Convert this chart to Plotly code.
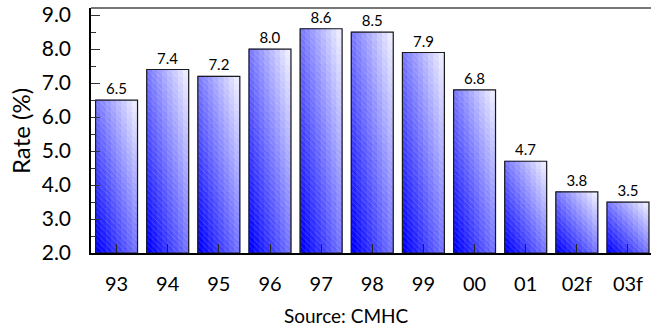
import plotly.graph_objects as go

categories = ["93", "94", "95", "96", "97", "98", "99", "00", "01", "02f", "03f"]
rates = [6.5, 7.4, 7.2, 8.0, 8.6, 8.5, 7.9, 6.8, 4.7, 3.8, 3.5]
value_labels = ["6.5", "7.4", "7.2", "8.0", "8.6", "8.5", "7.9", "6.8", "4.7", "3.8", "3.5"]
y_tick_vals = [2, 3, 4, 5, 6, 7, 8, 9]
y_tick_text = ["2.0", "3.0", "4.0", "5.0", "6.0", "7.0", "8.0", "9.0"]
axis_floor = 2.0

FONT = "Lato, 'Open Sans', sans-serif"
BAR_W = 0.82
ROWS = 26
COLS = 8

fig = go.Figure()

# diagonal blue -> white gradient, built from stacked slices of each bar
heights = [v - axis_floor for v in rates]
for j in range(COLS):
    w = BAR_W / COLS
    off = -BAR_W / 2 + j * w
    for i in range(ROWS):
        t = ((i + 0.5) / ROWS + (j + 0.5) / COLS) / 2
        t = max(0.0, (t - 0.04) / 0.96)
        c = int(round(245 * t))
        col = f"rgb({c},{c},255)"
        fig.add_trace(go.Bar(
            x=categories,
            y=[h / ROWS for h in heights],
            base=[axis_floor + h * i / ROWS for h in heights],
            width=w, offset=off,
            marker=dict(color=col, line=dict(width=1, color=col)),
            hoverinfo="skip", showlegend=False,
        ))

# outline + subtle stripes + value labels
fig.add_trace(go.Bar(
    x=categories,
    y=heights,
    base=[axis_floor] * len(rates),
    width=BAR_W, offset=-BAR_W / 2,
    marker=dict(
        color="rgba(0,0,0,0)",
        line=dict(color="#1a1a1a", width=1.2),
        pattern=dict(shape="\\", fgcolor="white", fgopacity=0.3, size=4,
                     solidity=0.15, fillmode="overlay"),
    ),
    text=value_labels,
    textposition="outside",
    textfont=dict(family=FONT, size=15, color="black"),
    cliponaxis=False,
    showlegend=False,
))

fig.update_layout(
    width=651, height=329,
    margin=dict(l=91, r=0, t=8, b=76),
    paper_bgcolor="white", plot_bgcolor="white",
    barmode="overlay",
    font=dict(family=FONT, color="black"),
    xaxis=dict(
        type="category", range=[-0.5, 10.45],
        showline=True, linecolor="black", linewidth=1.5,
        ticks="inside", ticklen=9, tickcolor="#222", tickwidth=1,
        tickfont=dict(family=FONT, size=20),
        ticklabelstandoff=12,
        showgrid=False, zeroline=False, fixedrange=True,
    ),
    yaxis=dict(
        range=[2.0, 9.21],
        tickvals=y_tick_vals, ticktext=y_tick_text,
        showline=True, linecolor="black", linewidth=1.5,
        ticks="inside", ticklen=9, tickcolor="#333", tickwidth=1,
        minor=dict(dtick=0.5, ticks="inside", ticklen=5, tickcolor="#333", tickwidth=1),
        tickfont=dict(family=FONT, size=21),
        ticklabelstandoff=14,
        showgrid=False, zeroline=False, fixedrange=True,
    ),
    shapes=[dict(type="line", xref="paper", yref="paper", x0=0, x1=1, y0=1, y1=1,
                 line=dict(color="#777", width=2))],
    annotations=[
        dict(text="Rate (%)", xref="paper", yref="paper", x=(20 - 91) / 560, y=(253 - 131) / 245,
             textangle=-90, showarrow=False, font=dict(family=FONT, size=24),
             xanchor="center", yanchor="middle"),
        dict(text="Source: CMHC", xref="paper", yref="paper", x=(346 - 91) / 560, y=(253 - 315) / 245,
             showarrow=False, font=dict(family=FONT, size=19), borderpad=0,
             xanchor="center", yanchor="middle"),
    ],
)

fig.write_html("out.html")
